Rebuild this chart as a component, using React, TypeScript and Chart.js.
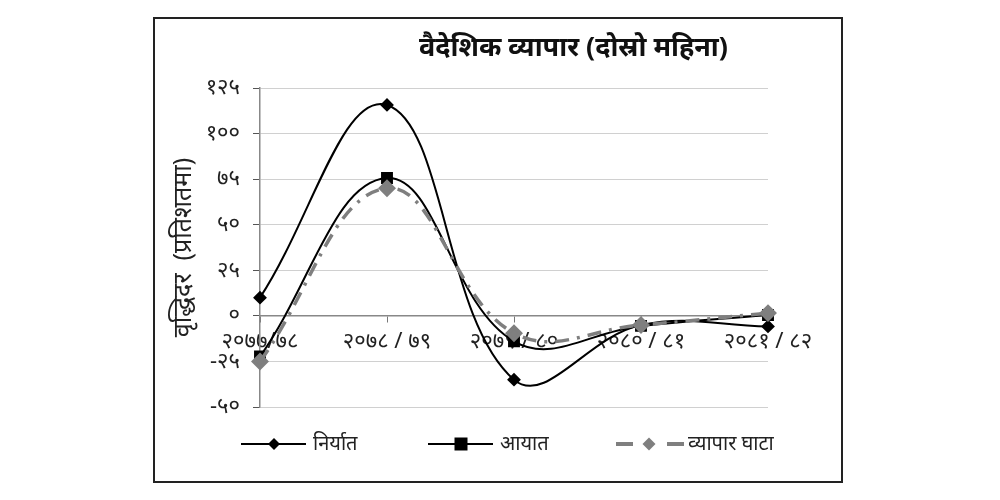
import React, { useEffect, useRef } from "react";
import { Chart, registerables } from "chart.js";

Chart.register(...registerables);

// आर्थिक वर्ष
const categories = ["२०७७/७८", "२०७८ / ७९", "२०७९ / ८०", "२०८० / ८१", "२०८१ / ८२"];
// वृद्धिदर (प्रतिशतमा)
const exportGrowth = [10, 115.7, -35, -5, -5.8];
const importGrowth = [-22.3, 75.6, -14, -5.5, 0.5];
const tradeDeficitGrowth = [-25, 70, -9.5, -5, 1.5];

const yTicks = [-50, -25, 0, 25, 50, 75, 100, 125];
const yTickLabels = ["-५०", "-२५", "०", "२५", "५०", "७५", "१००", "१२५"];

const FONT = "'Noto Sans', 'Noto Sans Devanagari', sans-serif";

// शीर्षक र लिजेन्ड आफैं कोर्ने
const decorPlugin = {
  id: "decor",
  afterDraw(chart: Chart) {
    const { ctx, width } = chart;
    ctx.save();
    ctx.fillStyle = "#111";
    ctx.font = `bold 27px ${FONT}`;
    ctx.textAlign = "center";
    ctx.textBaseline = "middle";
    ctx.fillText("वैदेशिक व्यापार (दोस्रो महिना)", width * 0.61, 29);

    const y = 425;
    const items = [
      { x: 86, label: "निर्यात", color: "#000", style: "rectRot", r: 6, split: false, lw: 2 },
      { x: 273, label: "आयात", color: "#000", style: "rect", r: 6.5, split: false, lw: 2 },
      { x: 461, label: "व्यापार घाटा", color: "#7f7f7f", style: "rectRot", r: 6.5, split: true, lw: 4 },
    ];
    items.forEach((it) => {
      ctx.strokeStyle = it.color;
      ctx.lineWidth = it.lw;
      ctx.beginPath();
      if (it.split) {
        ctx.moveTo(it.x, y);
        ctx.lineTo(it.x + 17, y);
        ctx.moveTo(it.x + 51, y);
        ctx.lineTo(it.x + 68, y);
      } else {
        ctx.moveTo(it.x, y);
        ctx.lineTo(it.x + 65, y);
      }
      ctx.stroke();
      ctx.fillStyle = it.color;
      ctx.beginPath();
      const cx = it.x + 33;
      if (it.style === "rect") {
        ctx.rect(cx - it.r, y - it.r, it.r * 2, it.r * 2);
      } else {
        ctx.moveTo(cx, y - it.r);
        ctx.lineTo(cx + it.r, y);
        ctx.lineTo(cx, y + it.r);
        ctx.lineTo(cx - it.r, y);
        ctx.closePath();
      }
      ctx.fill();
      ctx.fillStyle = "#222";
      ctx.font = `20px ${FONT}`;
      ctx.textAlign = "left";
      ctx.fillText(it.label, it.x + 72, y);
    });
    ctx.restore();
  },
};

export default function App() {
  const canvasRef = useRef<HTMLCanvasElement>(null);

  useEffect(() => {
    if (!canvasRef.current) return;
    const chart = new Chart(canvasRef.current, {
      type: "line",
      data: {
        labels: categories,
        datasets: [
          {
            label: "निर्यात",
            data: exportGrowth,
            borderColor: "#000",
            backgroundColor: "#000",
            borderWidth: 2,
            pointStyle: "rectRot",
            pointRadius: 5.5,
            tension: 0.4,
            clip: false,
            order: 1,
          },
          {
            label: "आयात",
            data: importGrowth,
            borderColor: "#000",
            backgroundColor: "#000",
            borderWidth: 2,
            pointStyle: "rect",
            pointRadius: 7,
            tension: 0.4,
            clip: false,
            order: 2,
          },
          {
            label: "व्यापार घाटा",
            data: tradeDeficitGrowth,
            borderColor: "#7f7f7f",
            backgroundColor: "#7f7f7f",
            borderWidth: 3.5,
            borderDash: [14, 8, 3, 8],
            pointStyle: "rectRot",
            pointRadius: 6.5,
            tension: 0.4,
            clip: false,
            order: 0,
          },
        ],
      },
      options: {
        animation: false,
        responsive: true,
        maintainAspectRatio: false,
        layout: { padding: { top: 69, right: 73, bottom: 74, left: 0 } },
        plugins: {
          legend: { display: false },
          title: { display: false },
          tooltip: { enabled: false },
        },
        scales: {
          x: {
            type: "category",
            offset: false,
            position: { y: 0 },
            grid: {
              drawOnChartArea: false,
              drawTicks: true,
              tickLength: 6,
              tickColor: "#777",
            },
            border: { color: "#888", width: 1.5 },
            ticks: {
              color: "#222",
              font: { family: FONT, size: 22 },
              maxRotation: 0,
              autoSkip: false,
              padding: 7,
            },
          },
          y: {
            min: -50,
            max: 125,
            afterFit: (scale: any) => {
              scale.width = 105;
            },
            afterBuildTicks: (scale: any) => {
              scale.ticks = yTicks.map((v) => ({ value: v }));
            },
            grid: {
              color: "#d0d0d0",
              lineWidth: 1,
              tickLength: 7,
              tickColor: "#555",
            },
            border: { color: "#888", width: 1.5 },
            ticks: {
              color: "#222",
              padding: 13,
              font: { family: FONT, size: 22 },
              callback: (value: any) => {
                const i = yTicks.indexOf(Number(value));
                return i >= 0 ? yTickLabels[i] : "";
              },
            },
            title: {
              display: true,
              text: "वृद्धिदर  (प्रतिशतमा)",
              color: "#222",
              font: { family: FONT, size: 25 },
              padding: { top: 14, bottom: 0 },
            },
          },
        },
      },
      plugins: [decorPlugin],
    });
    return () => chart.destroy();
  }, []);

  return (
    <div style={{ position: "absolute", left: 0, top: 0, width: 1000, height: 500, background: "#fff" }}>
      <div
        style={{
          position: "absolute",
          left: 153,
          top: 17,
          width: 686,
          height: 462,
          border: "2px solid #222",
        }}
      >
        <canvas ref={canvasRef} />
      </div>
    </div>
  );
}
